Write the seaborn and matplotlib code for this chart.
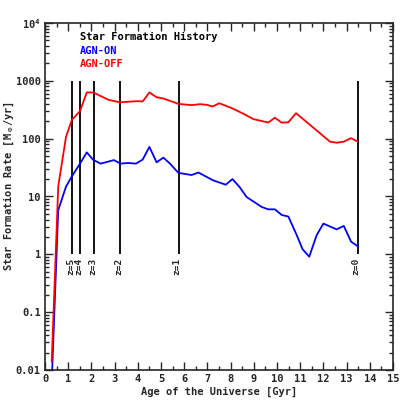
import pandas as pd
import seaborn as sns
import matplotlib.pyplot as plt
from matplotlib.ticker import LogLocator, FixedLocator, MultipleLocator, NullFormatter


# star formation history, AGN feedback on
age_on = [0.31, 0.57, 0.905, 1.16, 1.51, 1.80, 2.08, 2.40, 2.97, 3.26, 3.59, 3.92,
          4.21, 4.50, 4.81, 5.10, 5.39, 5.75, 6.32, 6.61, 7.25, 7.79, 8.08, 8.38,
          8.69, 9.34, 9.62, 9.91, 10.2, 10.49, 10.85, 11.1, 11.39, 11.71, 12.0,
          12.57, 12.88, 13.19, 13.48]
sfr_on = [0.01, 5.8, 14.8, 22.4, 37, 58, 43, 37, 42.6, 37, 38, 37,
          43.5, 72, 39, 47, 37, 25.6, 23.5, 26, 19, 16, 20, 14.7,
          9.8, 6.6, 6.0, 6.0, 4.8, 4.5, 2.15, 1.23, 0.91, 2.15, 3.4,
          2.7, 3.1, 1.66, 1.38]

# AGN feedback off
age_off = [0.29, 0.57, 0.905, 1.16, 1.51, 1.80, 2.08, 2.73, 3.23, 3.95, 4.21, 4.50,
           4.81, 5.10, 5.75, 6.32, 6.68, 6.97, 7.23, 7.51, 8.05, 8.55, 8.98, 9.62,
           9.91, 10.2, 10.49, 10.82, 12.28, 12.57, 12.88, 13.19, 13.48]
sfr_off = [0.014, 15, 107, 212, 300, 630, 630, 470, 425, 445, 440, 630,
           520, 495, 400, 380, 395, 385, 360, 410, 337, 270, 218, 190,
           230, 189, 192, 276, 89, 85, 89, 102, 89]

# redshift markers
z_ages = [1.16, 1.51, 2.11, 3.23, 5.76, 13.48]
z_labels = ['z=5', 'z=4', 'z=3', 'z=2', 'z=1', 'z=0']

yticks = [0.01, 0.1, 1, 10, 100, 1000, 1e4]
ytick_labels = ['0.01', '0.1', '1', '10', '100', '1000', '10$^4$']

on = pd.DataFrame({'age': age_on, 'sfr': sfr_on, 'run': 'AGN-ON'})
off = pd.DataFrame({'age': age_off, 'sfr': sfr_off, 'run': 'AGN-OFF'})
sfh = pd.concat([on, off], ignore_index=True)

sns.set_style('ticks')
plt.rcParams['font.family'] = ['DejaVu Sans Mono']
plt.rcParams['font.weight'] = 'bold'
plt.rcParams['mathtext.default'] = 'regular'
plt.rcParams['mathtext.fontset'] = 'dejavusans'

fig = plt.figure(figsize=(4.15, 4.15), dpi=100)
ax = fig.add_axes([45 / 415, 45 / 415, 348 / 415, 347 / 415])

# redshift lines go under the curves
ax.vlines(z_ages, 1, 1000, colors='k', linewidth=1.3, zorder=1)
for za, zl in zip(z_ages, z_labels):
    ax.text(za - 0.07, 0.88, zl, rotation=90, ha='center', va='top', fontsize=6.8, fontweight='bold')

sns.lineplot(data=sfh, x='age', y='sfr', hue='run', palette={'AGN-ON': '#0000ff', 'AGN-OFF': '#ff0000'},
             sort=False, estimator=None, legend=False, linewidth=1.3, ax=ax, zorder=2)

ax.set_yscale('log')
ax.set_xlim(0, 15)
ax.set_ylim(0.01, 1e4)

ax.xaxis.set_major_locator(MultipleLocator(1))
ax.xaxis.set_minor_locator(MultipleLocator(0.5))
ax.yaxis.set_major_locator(FixedLocator(yticks))
ax.set_yticklabels(ytick_labels)
ax.yaxis.set_minor_locator(LogLocator(base=10, subs=range(2, 10), numticks=20))
ax.yaxis.set_minor_formatter(NullFormatter())

ax.tick_params(which='both', direction='in', top=True, right=True, labelsize=7.5, width=1.0)
ax.tick_params(which='major', length=6, pad=3)
ax.tick_params(which='minor', length=3)
for sp in ax.spines.values():
    sp.set_linewidth(1.2)

ax.set_xlabel('Age of the Universe [Gyr]', fontsize=7.5, fontweight='bold', labelpad=2)
ax.set_ylabel(r'Star Formation Rate [M$_\odot$/yr]', fontsize=7.5, fontweight='bold')
ax.yaxis.set_label_coords(-0.082, 0.529)

# text legend in the upper left
ax.text(0.10, 0.96, 'Star Formation History', transform=ax.transAxes, color='k',
        fontsize=7.5, fontweight='bold', va='center')
ax.text(0.10, 0.919, 'AGN-ON', transform=ax.transAxes, color='#0000ff',
        fontsize=7.5, fontweight='bold', va='center')
ax.text(0.10, 0.882, 'AGN-OFF', transform=ax.transAxes, color='#ff0000',
        fontsize=7.5, fontweight='bold', va='center')

fig.savefig('out.png', dpi=100)
